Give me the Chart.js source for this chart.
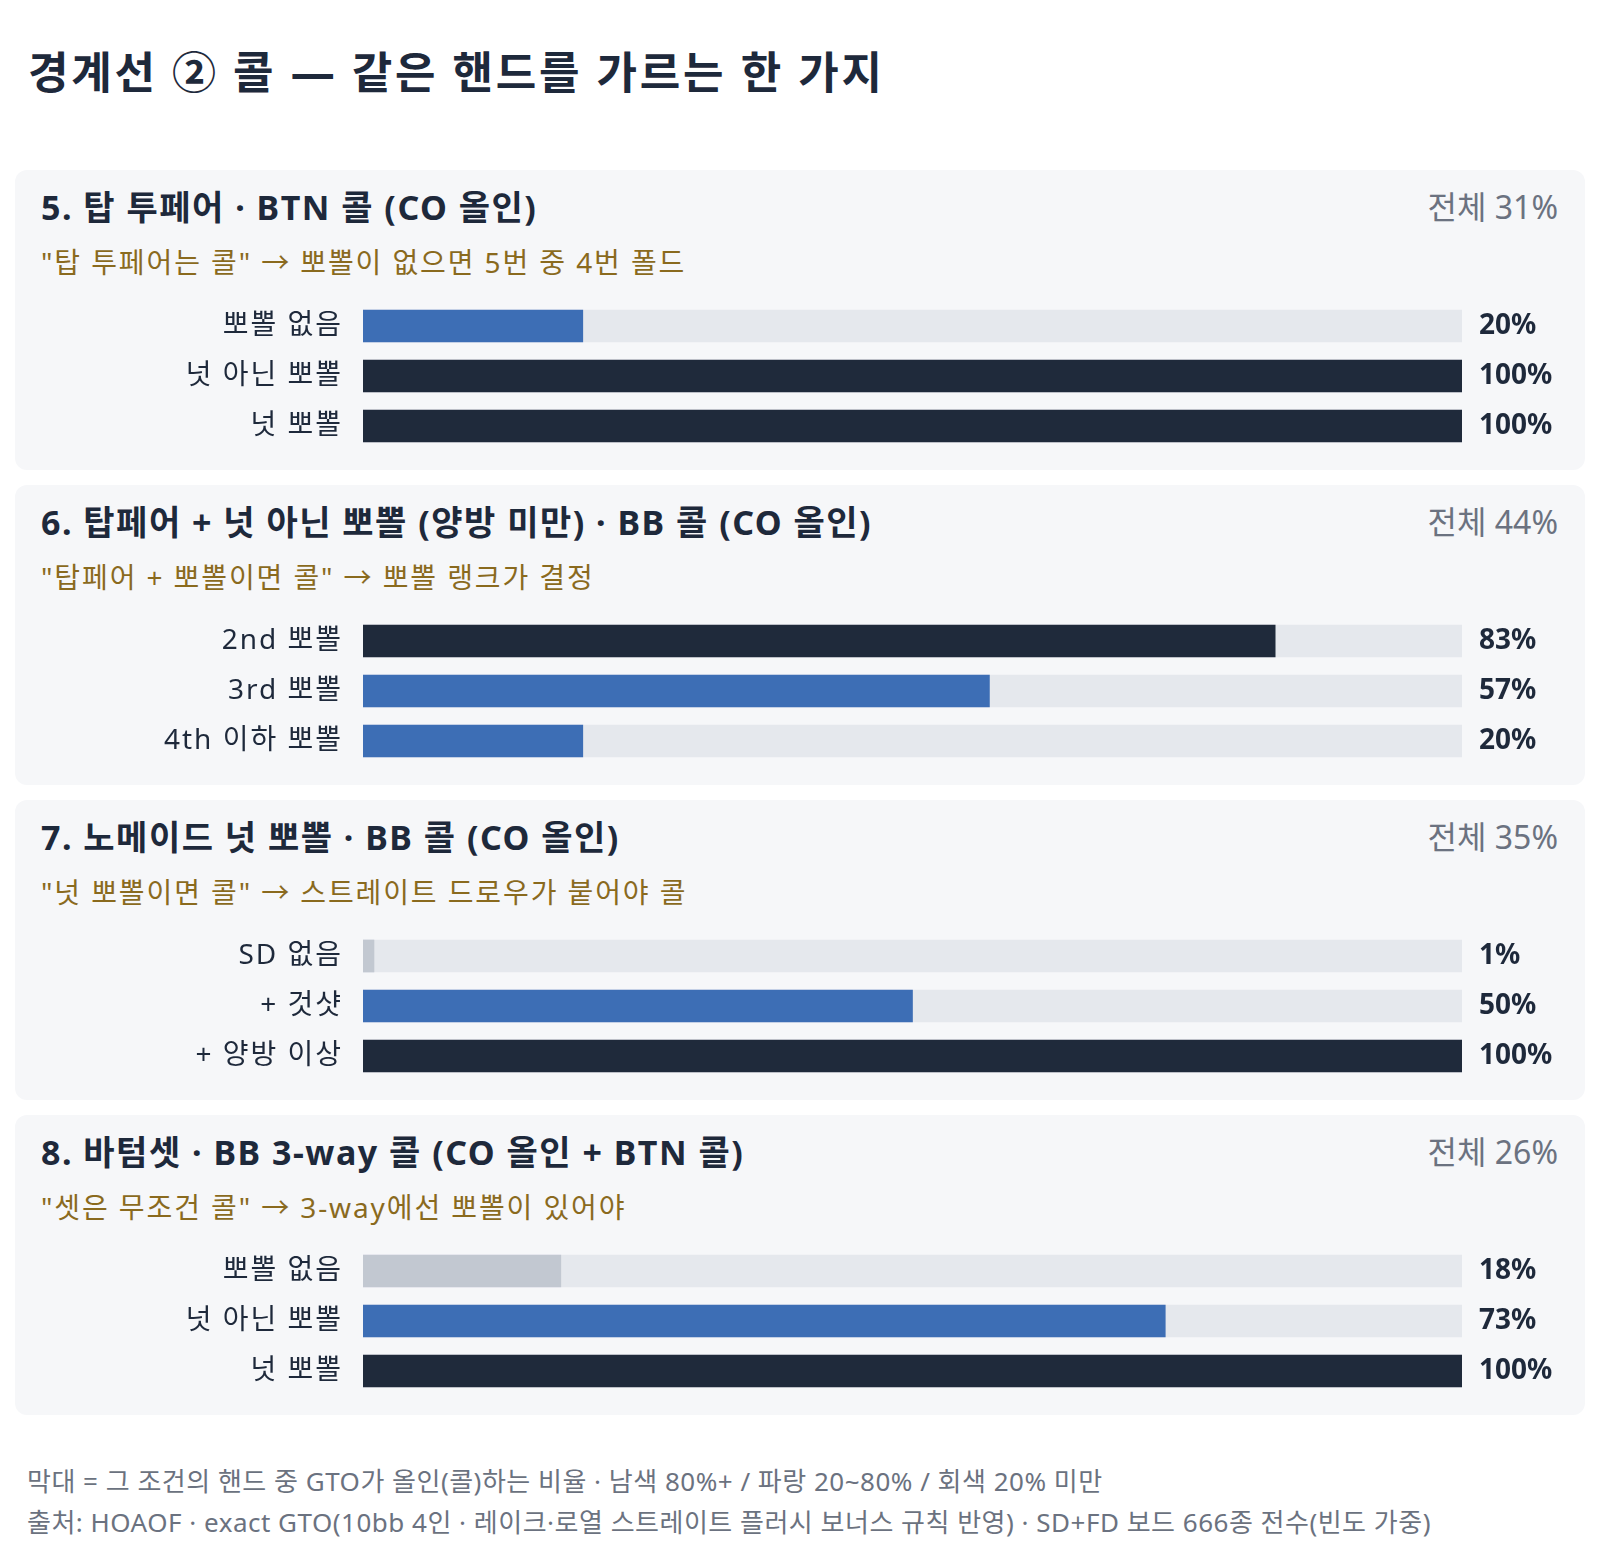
<!DOCTYPE html>
<html lang="ko">
<head>
<meta charset="utf-8">
<title>경계선 ② 콜</title>
<script src="https://cdn.jsdelivr.net/npm/chart.js@4.4.1/dist/chart.umd.min.js"></script>
<style>
  body {
    margin: 0;
    padding: 0 15px;
    background: #ffffff;
    font-family: "Noto Sans", "Noto Sans CJK KR", sans-serif;
    color: #1e293b;
  }
  h1 {
    margin: 0;
    padding: 44px 0 0 13px;
    font-size: 44px;
    line-height: 56px;
    font-weight: 700;
    letter-spacing: 2.8px;
  }
  .panels { margin-top: 70px; }
  .panel {
    position: relative;
    height: 300px;
    margin-bottom: 15px;
    background: #f6f7f9;
    border-radius: 12px;
  }
  .panel h2 {
    position: absolute;
    left: 26px;
    top: 17px;
    margin: 0;
    font-size: 34px;
    line-height: 40px;
    font-weight: 700;
    letter-spacing: 1.5px;
  }
  .panel .total {
    position: absolute;
    right: 27px;
    top: 17px;
    font-size: 32px;
    line-height: 40px;
    color: #6b7280;
  }
  .panel .note {
    position: absolute;
    left: 26px;
    top: 74px;
    font-size: 28px;
    line-height: 36px;
    color: #8a6a1e;
    letter-spacing: 1.9px;
  }
  .panel .bars {
    position: absolute;
    left: 0;
    right: 0;
    top: 131px;
    height: 150px;
  }
  .foot {
    margin-top: 46px;
    padding-left: 12px;
    font-size: 26px;
    line-height: 41px;
    color: #6b7280;
    letter-spacing: 0.5px;
    white-space: nowrap;
  }
</style>
</head>
<body>
<h1>경계선 ② 콜 — 같은 핸드를 가르는 한 가지</h1>
<div class="panels js-panels"></div>
<div class="foot">
  <div>막대 = 그 조건의 핸드 중 GTO가 올인(콜)하는 비율 · 남색 80%+ / 파랑 20~80% / 회색 20% 미만</div>
  <div>출처: HOAOF · exact GTO(10bb 4인 · 레이크·로열 스트레이트 플러시 보너스 규칙 반영) · SD+FD 보드 666종 전수(빈도 가중)</div>
</div>

<script>
const panelTitles = [
  '5. 탑 투페어 · BTN 콜 (CO 올인)',
  '6. 탑페어 + 넛 아닌 뽀뽈 (양방 미만) · BB 콜 (CO 올인)',
  '7. 노메이드 넛 뽀뽈 · BB 콜 (CO 올인)',
  '8. 바텀셋 · BB 3-way 콜 (CO 올인 + BTN 콜)',
]
const panelTotals = [31, 44, 35, 26]
const panelNotes = [
  '"탑 투페어는 콜" → 뽀뽈이 없으면 5번 중 4번 폴드',
  '"탑페어 + 뽀뽈이면 콜" → 뽀뽈 랭크가 결정',
  '"넛 뽀뽈이면 콜" → 스트레이트 드로우가 붙어야 콜',
  '"셋은 무조건 콜" → 3-way에선 뽀뽈이 있어야',
]
const rowLabels = [
  ['뽀뽈 없음', '넛 아닌 뽀뽈', '넛 뽀뽈'],
  ['2nd 뽀뽈', '3rd 뽀뽈', '4th 이하 뽀뽈'],
  ['SD 없음', '+ 것샷', '+ 양방 이상'],
  ['뽀뽈 없음', '넛 아닌 뽀뽈', '넛 뽀뽈'],
]
const callPct = [
  [20, 100, 100],
  [83, 57, 20],
  [1, 50, 100],
  [18, 73, 100],
]

const NAVY = '#1f2a3b'
const BLUE = '#3d6eb5'
const GREY = '#c2c8d1'
const TRACK = '#e5e8ed'
const FONT = '"Noto Sans", "Noto Sans CJK KR", sans-serif'

const barColor = (v) => (v >= 80 ? NAVY : v >= 20 ? BLUE : GREY)

// a little letter spacing for the row labels, like the page text
const spacing = {
  id: 'spacing',
  beforeDraw(chart) {
    chart.ctx.letterSpacing = '2px'
  },
}

// value text to the right of each track
const valueLabels = {
  id: 'valueLabels',
  afterDatasetsDraw(chart) {
    const { ctx, chartArea } = chart
    const meta = chart.getDatasetMeta(0)
    ctx.save()
    ctx.letterSpacing = '0px'
    ctx.font = `700 28px ${FONT}`
    ctx.fillStyle = '#1e293b'
    ctx.textAlign = 'left'
    ctx.textBaseline = 'middle'
    meta.data.forEach((bar, i) => {
      ctx.fillText(chart.data.datasets[0].data[i] + '%', chartArea.right + 17, bar.y)
    })
    ctx.restore()
  },
}

const makePanel = function (i) {
  const panel = document.createElement('div')
  panel.className = 'panel'
  panel.innerHTML =
    `<h2>${panelTitles[i]}</h2>` +
    `<div class="total">전체 ${panelTotals[i]}%</div>` +
    `<div class="note"></div>` +
    `<div class="bars"><canvas></canvas></div>`
  panel.querySelector('.note').textContent = panelNotes[i]
  document.querySelector('.js-panels').appendChild(panel)

  const values = callPct[i]
  new Chart(panel.querySelector('canvas'), {
    type: 'bar',
    data: {
      labels: rowLabels[i],
      datasets: [
        {
          data: values,
          backgroundColor: values.map(barColor),
          barThickness: 32,
          order: 0,
        },
        {
          data: values.map(() => 100),
          backgroundColor: TRACK,
          barThickness: 32,
          order: 1,
        },
      ],
    },
    options: {
      indexAxis: 'y',
      responsive: true,
      maintainAspectRatio: false,
      animation: false,
      datasets: { bar: { grouped: false } },
      layout: { padding: { left: 0, right: 123, top: 0, bottom: 0 } },
      plugins: { legend: { display: false }, tooltip: { enabled: false } },
      scales: {
        x: { display: false, min: 0, max: 100 },
        y: {
          grid: { display: false, drawTicks: false, tickLength: 0 },
          border: { display: false },
          ticks: {
            padding: 20,
            color: '#1e293b',
            font: { family: FONT, size: 28 },
          },
          afterFit: (scale) => {
            scale.width = 348
            // rows fill the whole canvas height
            scale.paddingTop = 0
            scale.paddingBottom = 0
          },
        },
      },
    },
    plugins: [spacing, valueLabels],
  })
}

document.addEventListener('DOMContentLoaded', function () {
  Chart.defaults.font.family = FONT
  panelTitles.forEach((_, i) => makePanel(i))
})
</script>
</body>
</html>
